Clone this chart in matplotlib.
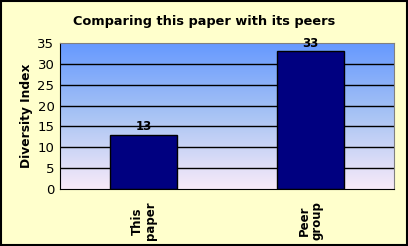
import matplotlib
matplotlib.use("Agg")
import matplotlib.pyplot as plt
import numpy as np
from matplotlib.colors import LinearSegmentedColormap

categories = ["This\npaper", "Peer\ngroup"]
values = [13, 33]
yticks = [0, 5, 10, 15, 20, 25, 30, 35]

fig = plt.figure(figsize=(4.08, 2.46), dpi=100, facecolor="#FFFFCC")
fig.patches.append(plt.Rectangle((0.002, 0.004), 0.995, 0.992, transform=fig.transFigure,
                                 fill=False, edgecolor="black", linewidth=1.5))
ax = fig.add_axes([60/408, 1-189/246, 334/408, 146/246])

cmap = LinearSegmentedColormap.from_list("g", ["#F8EAF8", "#A9C4F4", "#6699FF"])
grad = np.linspace(0, 1, 256).reshape(-1, 1)
ax.imshow(grad, aspect="auto", cmap=cmap, origin="lower",
          extent=[-0.5, 1.5, 0, 35], zorder=0)

x = np.arange(len(categories))
for y in yticks[1:-1]:
    ax.axhline(y, color="black", linewidth=1, zorder=1)
bars = ax.bar(x, values, width=0.4, color="#000080", edgecolor="black", linewidth=1, zorder=2)
for xi, v in zip(x, values):
    ax.text(xi, v + 0.4, str(v), ha="center", va="bottom", fontsize=8.5, fontweight="bold")

ax.set_xlim(-0.5, 1.5)
ax.set_ylim(0, 35)
ax.set_yticks(yticks)
ax.set_yticklabels([str(t) for t in yticks], fontsize=9.5)
ax.set_xticks(x)
ax.set_xticklabels(categories, rotation=90, fontsize=8.5, fontweight="bold", linespacing=1.0)
ax.tick_params(axis="y", length=0, pad=4)
ax.tick_params(axis="x", length=0, pad=9)
ax.set_ylabel("Diversity Index", fontsize=8.8, fontweight="bold", labelpad=3)
for side in ["top", "right"]:
    ax.spines[side].set_color("#808080")
ax.spines["left"].set_color("black")
ax.spines["bottom"].set_color("black")
fig.text(0.5, 1-22/246, "Comparing this paper with its peers", ha="center", va="center",
         fontsize=9.3, fontweight="bold")
fig.savefig("out.png", dpi=100, facecolor=fig.get_facecolor())
